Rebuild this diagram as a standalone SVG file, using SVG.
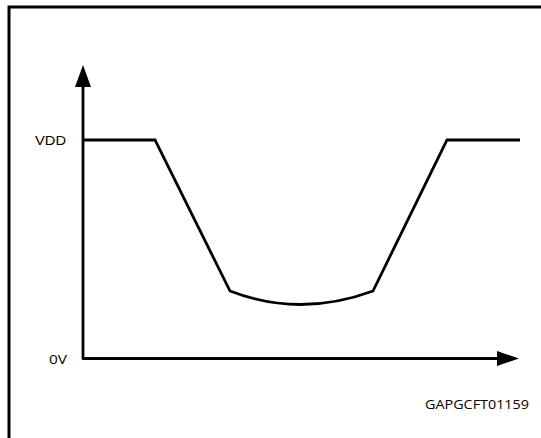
<svg xmlns="http://www.w3.org/2000/svg" width="541" height="438" viewBox="0 0 541 438">
<style>
.ln{fill:none;stroke:#000;stroke-width:2.8;stroke-linejoin:miter}
.lbl{font-family:"Liberation Sans",Arial,sans-serif;font-size:13.5px;fill:#000}
.id{font-family:"Open Sans","DejaVu Sans",sans-serif;font-size:13px;fill:#000}
</style>
<rect x="0" y="0" width="541" height="438" fill="#fff"/>
<g id="frame"><path d="M9,438 V7 H541" fill="none" stroke="#000" stroke-width="3"/></g>
<g id="axes">
<line class="ln" x1="83" y1="359" x2="83" y2="84"/>
<polygon points="83,65 75,87 91,87" fill="#000"/>
<line class="ln" x1="82" y1="358.5" x2="500" y2="358.5"/>
<polygon points="519,358.5 497,351 497,366" fill="#000"/>
</g>
<g id="waveform">
<path class="ln" d="M83,140 H155 L230,291 Q300,318 373,291 L447,140 H520"/>
</g>
<g id="labels">
<text class="lbl" x="35" y="145" textLength="31" lengthAdjust="spacingAndGlyphs">VDD</text>
<text class="id" x="49" y="364" textLength="18" lengthAdjust="spacingAndGlyphs">0V</text>
<text class="id" x="425" y="409" textLength="104" lengthAdjust="spacingAndGlyphs">GAPGCFT01159</text>
</g>
</svg>
